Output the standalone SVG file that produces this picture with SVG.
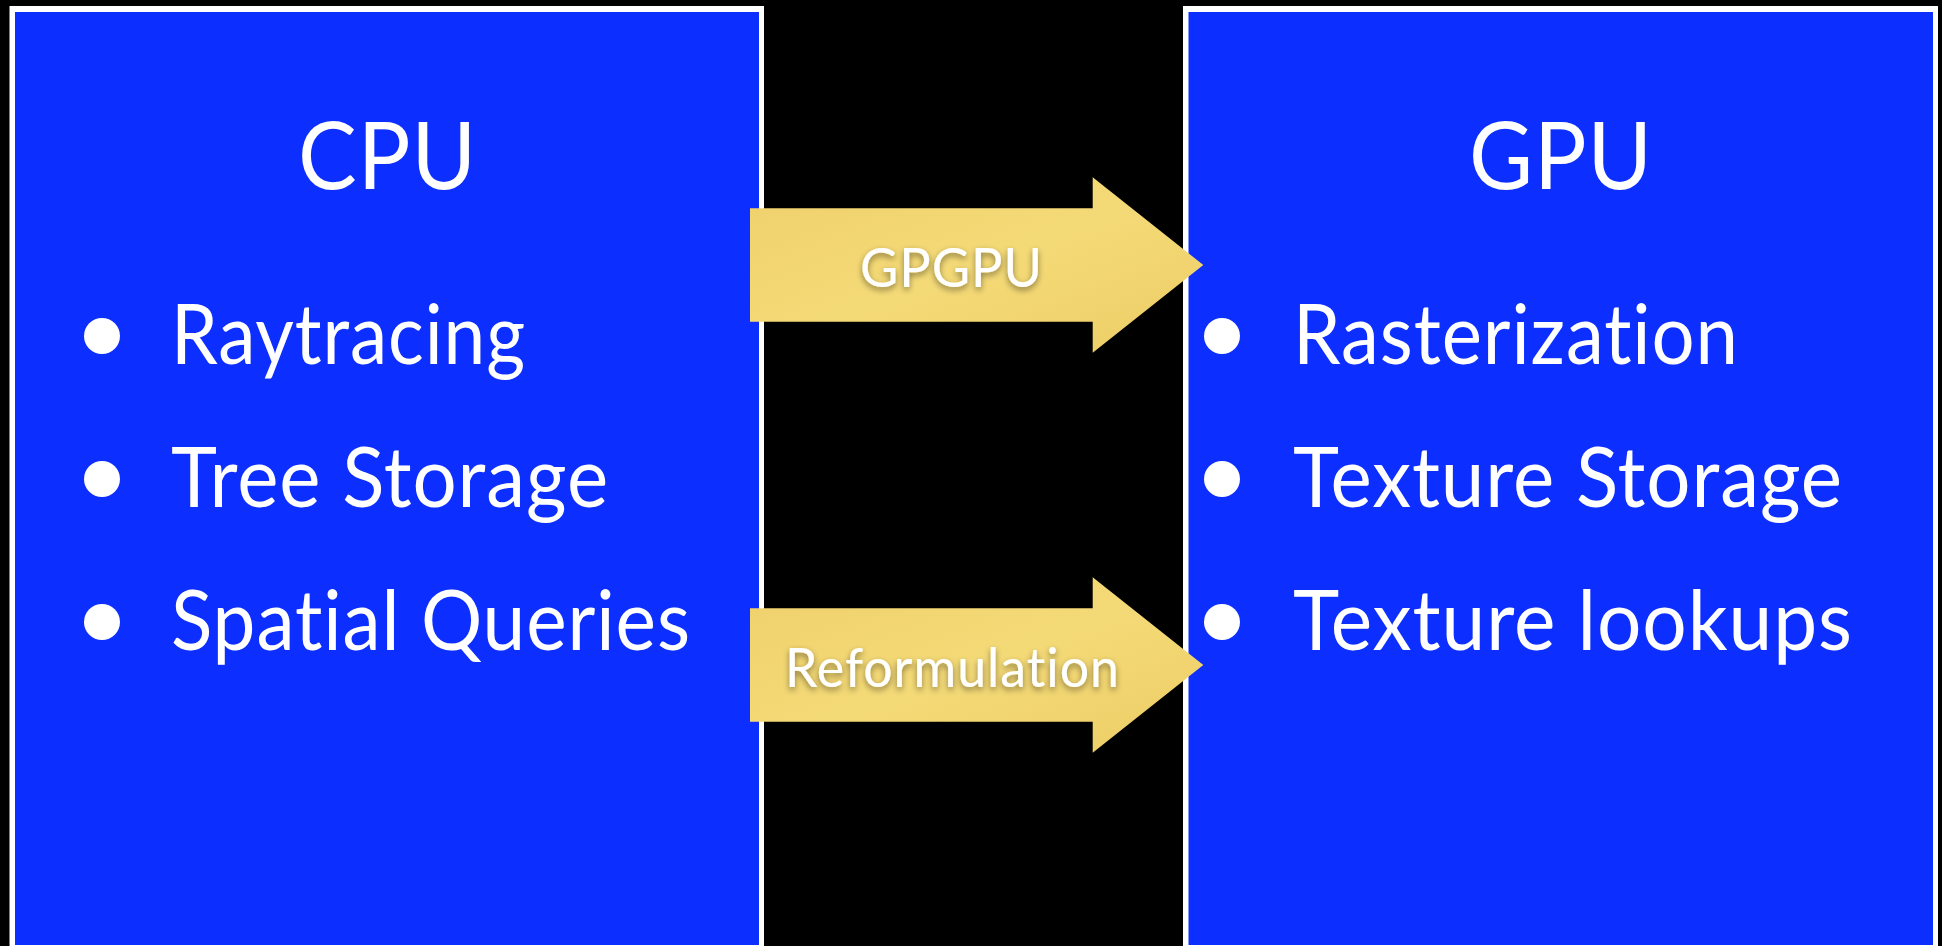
<svg xmlns="http://www.w3.org/2000/svg" width="1942" height="946" viewBox="0 0 1942 946">
<defs>
<linearGradient id="gold" x1="0" y1="0" x2="1" y2="1">
<stop offset="0" stop-color="#efd06b"/>
<stop offset="0.5" stop-color="#f4da77"/>
<stop offset="1" stop-color="#edcd66"/>
</linearGradient>
<filter id="shadow" x="-10%" y="-30%" width="120%" height="170%">
<feDropShadow dx="0" dy="3" stdDeviation="3" flood-color="#000" flood-opacity="0.45"/>
</filter>
</defs>
<style>
text{font-variant-ligatures:none;font-feature-settings:"liga" 0,"clig" 0,"dlig" 0,"calt" 0;letter-spacing:1px;}
.frame{fill:#ffffff;}
.panel{fill:#0c2eff;}
.title{font-family:Lato,"Open Sans",sans-serif;font-size:93px;fill:#fff;}
.item{font-family:Lato,"Open Sans",sans-serif;font-size:84px;fill:#fff;}
.dot{fill:#fff;}
.arrow{fill:url(#gold);}
.lbl{font-family:Lato,"Open Sans",sans-serif;font-size:55px;fill:#fff;filter:url(#shadow);}
</style>
<rect width="1942" height="946" fill="#000"/>
<g id="cpu">
<rect class="frame" x="9.5" y="6" width="754.5" height="946"/>
<rect class="panel" x="15" y="12" width="744" height="933"/>
<text class="title" x="298" y="189" textLength="179" lengthAdjust="spacingAndGlyphs">CPU</text>
<circle class="dot" cx="102" cy="336" r="18"/>
<circle class="dot" cx="102" cy="479" r="18"/>
<circle class="dot" cx="102" cy="622" r="18"/>
<text class="item" x="171" y="364" textLength="355" lengthAdjust="spacingAndGlyphs">Raytracing</text>
<text class="item" x="171" y="507" textLength="438" lengthAdjust="spacingAndGlyphs">Tree Storage</text>
<text class="item" x="171" y="650" textLength="520" lengthAdjust="spacingAndGlyphs">Spatial Queries</text>
</g>
<g id="gpu">
<rect class="frame" x="1183" y="6" width="755" height="946"/>
<rect class="panel" x="1188.5" y="12" width="744.5" height="933"/>
<text class="title" x="1469" y="189" textLength="184" lengthAdjust="spacingAndGlyphs">GPU</text>
<circle class="dot" cx="1222" cy="336" r="18"/>
<circle class="dot" cx="1222" cy="479" r="18"/>
<circle class="dot" cx="1222" cy="622" r="18"/>
<text class="item" x="1293" y="364" textLength="446" lengthAdjust="spacingAndGlyphs">Rasterization</text>
<text class="item" x="1293" y="507" textLength="550" lengthAdjust="spacingAndGlyphs">Texture Storage</text>
<text class="item" x="1293" y="650" textLength="560" lengthAdjust="spacingAndGlyphs">Texture lookups</text>
</g>
<g id="connectors">
<g id="arrow-gpgpu">
<polygon class="arrow" points="750,208.3 1092.7,208.3 1092.7,177.3 1203.3,265 1092.7,352.7 1092.7,321.7 750,321.7"/>
<text class="lbl" x="860" y="287" textLength="183" lengthAdjust="spacingAndGlyphs">GPGPU</text>
</g>
<g id="arrow-reformulation">
<polygon class="arrow" points="750,608.3 1092.7,608.3 1092.7,577.3 1203.3,665 1092.7,752.7 1092.7,721.7 750,721.7"/>
<text class="lbl" x="785" y="687" textLength="335" lengthAdjust="spacingAndGlyphs">Reformulation</text>
</g>
</g>
</svg>
